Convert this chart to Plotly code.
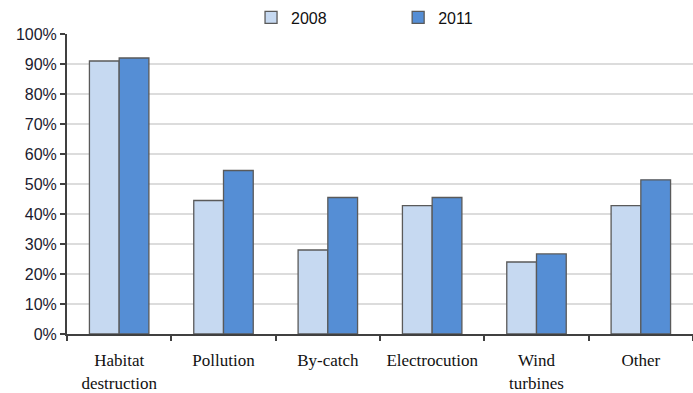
import plotly.graph_objects as go

categories = ["Habitat<br>destruction", "Pollution", "By-catch", "Electrocution", "Wind<br>turbines", "Other"]
values_2008 = [91, 44.5, 28, 42.8, 24, 42.8]
values_2011 = [92, 54.5, 45.5, 45.5, 26.7, 51.4]
y_ticks = [0, 10, 20, 30, 40, 50, 60, 70, 80, 90, 100]
y_tick_labels = [f"{v}%" for v in y_ticks]

fig = go.Figure()
fig.add_trace(go.Bar(
    x=categories, y=values_2008, name="2008",
    marker=dict(color="#C6D9F1", line=dict(color="#5a5a5a", width=1.3)),
    legend="legend",
))
fig.add_trace(go.Bar(
    x=categories, y=values_2011, name="2011",
    marker=dict(color="#558ED5", line=dict(color="#5a5a5a", width=1.3)),
    legend="legend2",
))

legend_style = dict(
    orientation="h", yanchor="middle", y=1.055, xanchor="left",
    bgcolor="rgba(0,0,0,0)",
    font=dict(family="Liberation Sans, Arial, sans-serif", size=16, color="#111"),
    itemwidth=30,
)

fig.update_layout(
    width=693, height=393,
    margin=dict(l=67, r=0, t=32, b=59),
    paper_bgcolor="white", plot_bgcolor="white",
    barmode="group", bargap=0.43, bargroupgap=0,
    showlegend=True,
    legend=dict(x=0.294, **legend_style),
    legend2=dict(x=0.529, **legend_style),
    xaxis=dict(
        showline=True, linecolor="#404040", linewidth=2,
        ticks="outside", tickson="boundaries", ticklen=5, tickcolor="#404040", tickwidth=2,
        tickfont=dict(family="Liberation Serif, Times New Roman, serif", size=17, color="#111"),
        tickangle=0, automargin=False,
        ticklabelstandoff=10,
        showgrid=False,
    ),
    yaxis=dict(
        range=[0, 100], tickmode="array", tickvals=y_ticks, ticktext=y_tick_labels,
        showline=True, linecolor="#404040", linewidth=2,
        ticks="outside", ticklen=5, tickcolor="#404040", tickwidth=2,
        tickfont=dict(family="Liberation Sans, Arial, sans-serif", size=16, color="#1a1a2e"),
        automargin=False,
        showgrid=True, gridcolor="#dcdcdc", gridwidth=1.5,
        zeroline=False,
    ),
)

fig.write_html("out.html")
